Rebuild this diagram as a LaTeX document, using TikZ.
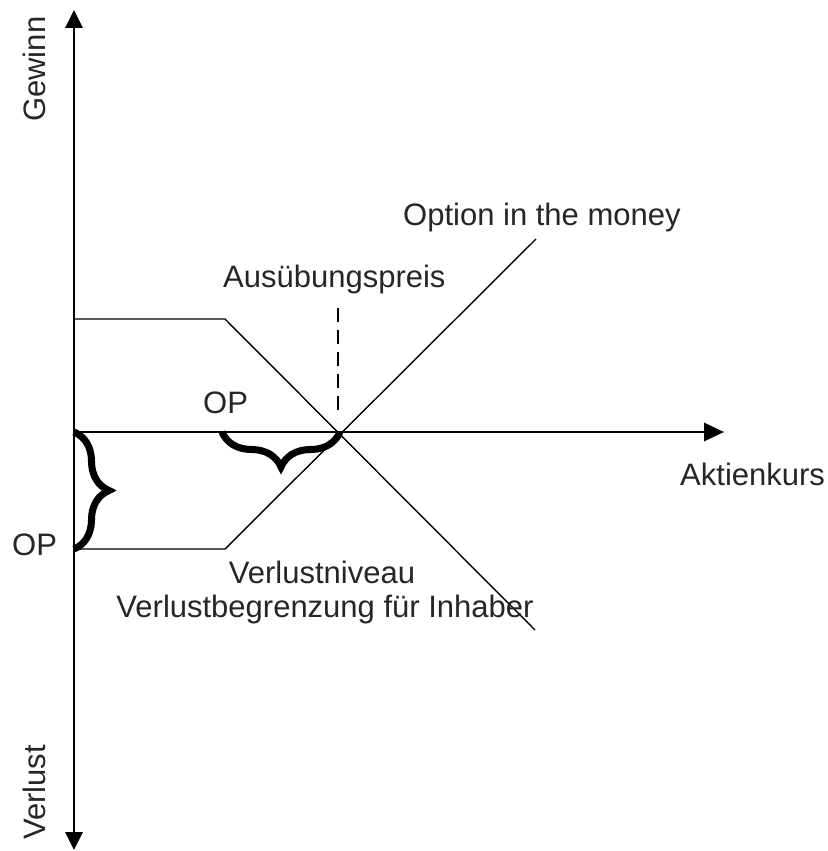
\documentclass[tikz,border=0pt]{standalone}
\usepackage{fontspec}
\setmainfont{Liberation Sans}
\usetikzlibrary{arrows.meta,decorations.pathreplacing}
\begin{document}
\begin{tikzpicture}[x=1pt,y=-1pt,
  axis/.style={line width=2.8pt,{Triangle[length=18pt,width=17pt]}-{Triangle[length=18pt,width=17pt]}},
  haxis/.style={line width=2.8pt,-{Triangle[length=20pt,width=18pt]}},
  payoff/.style={line width=1.4pt},
  curly/.style={line width=7pt,decorate,decoration={brace,amplitude=35pt}},
  label/.style={inner sep=0pt,font=\fontsize{31}{36}\selectfont,text=black!85}]
\useasboundingbox (0,0) rectangle (827,851);
% key points
\coordinate (O) at (74,432);
\coordinate (top) at (74,10);
\coordinate (bot) at (74,850);
\coordinate (xend) at (724,432);
\coordinate (K) at (340,432);
\coordinate (hiL) at (74,319);
\coordinate (hiK) at (225,319);
\coordinate (hiE) at (535,630);
\coordinate (loL) at (74,549);
\coordinate (loK) at (225,549);
\coordinate (loE) at (536,239);
\coordinate (dA) at (338,308);
\coordinate (dB) at (338,418);
\coordinate (bA) at (222,432);
% axes
\draw[axis] (bot) -- (top);
\draw[haxis] (O) -- (xend);
% payoff lines
\draw[payoff] (hiL) -- (hiK) -- (hiE);
\draw[payoff] (loL) -- (loK) -- (loE);
% strike marker
\draw[line width=1.5pt,dash pattern=on 14pt off 8pt] (dA) -- (dB);
% option premium braces
\draw[curly] (O) -- (loL);
\draw[curly] (K) -- (bA);
% labels
\node[label,rotate=90,anchor=base west] (gew) at (45,122) {Gewinn};
\node[label,rotate=90,anchor=base west] (ver) at (45,840) {Verlust};
\node[label,anchor=base west] (otm) at (403,225) {Option in the money};
\node[label,anchor=base west] (aus) at (223,287) {Ausübungspreis};
\node[label,anchor=base west] (op1) at (203,413) {OP};
\node[label,anchor=base west] (op2) at (12,555) {OP};
\node[label,anchor=base west] (akt) at (680,485) {Aktienkurs};
\node[label,anchor=base] (vn) at (322,583) {Verlustniveau};
\node[label,anchor=base] (vb) at (325,617) {Verlustbegrenzung für Inhaber};
\end{tikzpicture}
\end{document}
